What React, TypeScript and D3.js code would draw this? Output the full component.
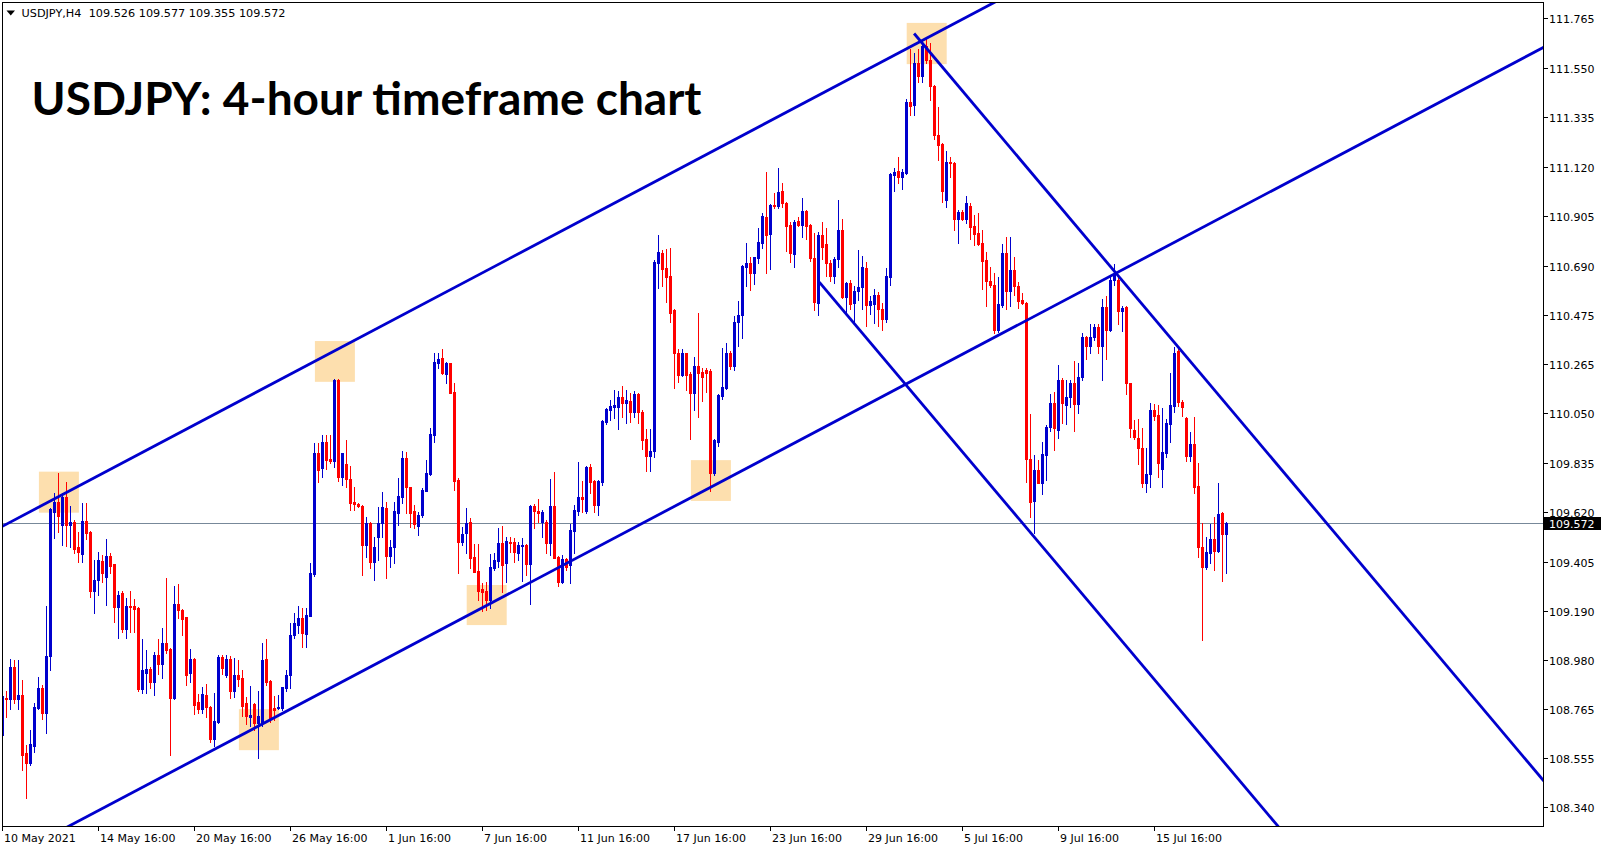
import React from "react";
import * as d3 from "d3";

// ---- OHLC data, USDJPY H4, bar 0 = 10 May 2021 16:00 ----
const openPrices = [
  108.654, 108.815, 108.811, 108.948, 108.811, 108.827, 108.575, 108.531, 108.607, 108.773,
  108.860, 108.751, 108.995, 109.624, 109.667, 109.566, 109.689, 109.566, 109.580, 109.468,
  109.439, 109.583, 109.533, 109.277, 109.327, 109.410, 109.340, 109.431, 109.394, 109.209,
  109.269, 109.115, 109.214, 109.212, 109.204, 108.853, 108.925, 108.942, 108.886, 109.002,
  108.963, 109.055, 109.026, 108.814, 109.223, 109.197, 109.164, 108.922, 108.983, 108.795,
  108.766, 108.827, 108.777, 108.636, 108.712, 108.992, 108.915, 108.984, 108.843, 108.915,
  108.900, 108.792, 108.734, 108.789, 108.708, 108.708, 108.983, 108.890, 108.769, 108.770,
  108.770, 108.857, 108.915, 109.088, 109.132, 109.161, 109.093, 109.172, 109.353, 109.877,
  109.814, 109.924, 109.852, 109.845, 110.195, 109.772, 109.830, 109.764, 109.664, 109.657,
  109.649, 109.479, 109.576, 109.406, 109.512, 109.573, 109.638, 109.432, 109.471, 109.619,
  109.689, 109.855, 109.729, 109.626, 109.561, 109.609, 109.715, 109.787, 109.956, 110.270,
  110.289, 110.221, 110.267, 110.144, 109.761, 109.493, 109.530, 109.580, 109.428, 109.366,
  109.288, 109.279, 109.240, 109.380, 109.409, 109.486, 109.399, 109.493, 109.490, 109.443,
  109.476, 109.479, 109.395, 109.648, 109.627, 109.580, 109.580, 109.486, 109.648, 109.428,
  109.320, 109.418, 109.392, 109.540, 109.627, 109.689, 109.627, 109.819, 109.757, 109.653,
  109.754, 110.014, 110.065, 110.079, 110.079, 110.121, 110.097, 110.104, 110.055, 110.134,
  110.058, 109.937, 109.865, 109.887, 110.704, 110.748, 110.680, 110.646, 110.499, 110.311,
  110.217, 110.311, 110.221, 110.137, 110.256, 110.230, 110.238, 110.234, 109.790, 109.927,
  110.126, 110.159, 110.314, 110.256, 110.448, 110.477, 110.687, 110.701, 110.658, 110.723,
  110.791, 110.904, 110.829, 110.955, 110.950, 111.017, 110.965, 110.868, 110.742, 110.887,
  110.868, 110.930, 110.868, 110.723, 110.530, 110.824, 110.785, 110.701, 110.646, 110.718,
  110.848, 110.556, 110.614, 110.527, 110.582, 110.599, 110.679, 110.520, 110.524, 110.563,
  110.501, 110.460, 110.643, 111.084, 111.103, 111.074, 111.094, 111.403, 111.388, 111.572,
  111.514, 111.644, 111.586, 111.470, 111.258, 111.219, 110.976, 111.142, 111.138, 110.892,
  110.925, 110.892, 110.950, 110.863, 110.831, 110.790, 110.715, 110.625, 110.607, 110.411,
  110.520, 110.747, 110.582, 110.672, 110.602, 110.542, 110.527, 109.850, 109.671, 109.804,
  109.749, 109.869, 109.989, 110.096, 109.977, 110.197, 110.086, 110.122, 110.180, 110.090,
  110.206, 110.380, 110.342, 110.380, 110.423, 110.342, 110.510, 110.414, 110.631, 110.629,
  110.495, 110.510, 110.180, 109.980, 109.941, 109.898, 109.746, 109.789, 110.064, 110.042,
  109.810, 109.877, 110.004, 110.082, 110.322, 110.101, 110.029, 109.865, 109.917, 109.735,
  109.471, 109.382, 109.443, 109.503, 109.454, 109.616, 109.526,
];

const highPrices = [
  108.850, 108.843, 108.983, 108.980, 108.980, 108.893, 108.611, 108.676, 108.792, 108.905,
  108.871, 109.212, 109.640, 109.703, 109.790, 109.703, 109.754, 109.646, 109.585, 109.533,
  109.663, 109.660, 109.540, 109.414, 109.450, 109.436, 109.504, 109.443, 109.397, 109.277,
  109.281, 109.248, 109.281, 109.243, 109.210, 109.070, 109.023, 108.951, 109.016, 109.070,
  109.117, 109.335, 109.030, 109.301, 109.310, 109.200, 109.168, 109.026, 108.988, 108.832,
  108.861, 108.876, 108.780, 108.838, 109.002, 109.002, 109.002, 108.997, 108.987, 108.980,
  108.937, 108.818, 108.867, 108.792, 108.843, 109.052, 109.070, 108.893, 108.821, 108.828,
  108.864, 108.937, 109.142, 109.183, 109.212, 109.204, 109.204, 109.400, 109.923, 109.920,
  109.956, 109.956, 109.956, 110.198, 110.200, 109.880, 109.935, 109.822, 109.729, 109.662,
  109.652, 109.602, 109.580, 109.515, 109.645, 109.707, 109.667, 109.500, 109.667, 109.768,
  109.888, 109.884, 109.732, 109.652, 109.623, 109.725, 109.848, 109.985, 110.314, 110.314,
  110.328, 110.275, 110.270, 110.180, 109.768, 109.558, 109.638, 109.595, 109.482, 109.482,
  109.312, 109.320, 109.438, 109.443, 109.551, 109.559, 109.515, 109.515, 109.508, 109.493,
  109.508, 109.482, 109.653, 109.655, 109.679, 109.631, 109.587, 109.765, 109.797, 109.432,
  109.436, 109.424, 109.569, 109.653, 109.838, 109.757, 109.823, 109.830, 109.760, 109.760,
  110.020, 110.072, 110.108, 110.152, 110.147, 110.169, 110.152, 110.137, 110.145, 110.137,
  110.065, 109.981, 109.981, 110.715, 110.824, 110.759, 110.762, 110.767, 110.502, 110.328,
  110.328, 110.314, 110.231, 110.296, 110.484, 110.246, 110.246, 110.241, 109.940, 110.135,
  110.332, 110.354, 110.320, 110.473, 110.539, 110.695, 110.791, 110.727, 110.730, 110.853,
  110.918, 111.099, 110.960, 111.008, 111.114, 111.052, 110.969, 110.882, 110.890, 110.904,
  110.984, 110.933, 110.872, 110.831, 110.838, 110.882, 110.853, 110.715, 110.730, 110.976,
  110.892, 110.621, 110.628, 110.602, 110.759, 110.733, 110.708, 110.559, 110.592, 110.578,
  110.530, 110.679, 111.094, 111.117, 111.164, 111.109, 111.413, 111.630, 111.615, 111.630,
  111.677, 111.677, 111.659, 111.475, 111.378, 111.222, 111.190, 111.161, 111.140, 110.935,
  110.935, 110.993, 110.964, 110.911, 110.918, 110.848, 110.751, 110.686, 110.660, 110.640,
  110.785, 110.817, 110.817, 110.727, 110.621, 110.574, 110.534, 110.047, 109.869, 109.847,
  109.927, 109.999, 110.134, 110.144, 110.260, 110.202, 110.197, 110.197, 110.278, 110.270,
  110.400, 110.385, 110.440, 110.440, 110.440, 110.545, 110.559, 110.650, 110.698, 110.646,
  110.516, 110.516, 110.183, 110.021, 110.024, 109.985, 109.898, 110.096, 110.090, 110.086,
  110.072, 110.024, 110.224, 110.337, 110.337, 110.108, 110.033, 109.971, 110.033, 109.833,
  109.576, 109.515, 109.570, 109.602, 109.749, 109.623, 109.577,
];

const lowPrices = [
  108.640, 108.734, 108.766, 108.792, 108.766, 108.500, 108.379, 108.524, 108.578, 108.766,
  108.722, 108.662, 108.937, 109.507, 109.537, 109.479, 109.475, 109.472, 109.446, 109.403,
  109.407, 109.504, 109.255, 109.185, 109.262, 109.320, 109.219, 109.356, 109.146, 109.074,
  109.103, 109.074, 109.103, 109.103, 108.843, 108.838, 108.838, 108.857, 108.828, 108.919,
  108.900, 109.009, 108.568, 108.810, 109.161, 109.088, 108.871, 108.886, 108.746, 108.748,
  108.751, 108.731, 108.625, 108.607, 108.705, 108.919, 108.905, 108.814, 108.818, 108.867,
  108.737, 108.702, 108.691, 108.676, 108.556, 108.691, 108.871, 108.712, 108.720, 108.766,
  108.763, 108.843, 108.857, 109.074, 109.096, 109.038, 109.035, 109.171, 109.342, 109.754,
  109.775, 109.807, 109.836, 109.816, 109.758, 109.739, 109.729, 109.631, 109.631, 109.645,
  109.348, 109.428, 109.377, 109.327, 109.414, 109.515, 109.337, 109.385, 109.399, 109.566,
  109.660, 109.619, 109.558, 109.551, 109.522, 109.602, 109.712, 109.783, 109.927, 110.246,
  110.220, 110.180, 110.137, 109.717, 109.359, 109.480, 109.443, 109.378, 109.360, 109.240,
  109.190, 109.197, 109.204, 109.370, 109.385, 109.276, 109.320, 109.447, 109.407, 109.414,
  109.323, 109.349, 109.221, 109.551, 109.580, 109.515, 109.443, 109.436, 109.421, 109.302,
  109.312, 109.370, 109.312, 109.443, 109.609, 109.624, 109.616, 109.703, 109.621, 109.609,
  109.739, 110.003, 110.022, 110.032, 109.982, 110.036, 110.007, 110.014, 110.036, 110.007,
  109.894, 109.801, 109.801, 109.862, 110.593, 110.603, 110.535, 110.448, 110.159, 110.188,
  110.212, 110.152, 109.937, 110.065, 110.036, 110.105, 110.144, 109.715, 109.783, 109.909,
  110.111, 110.154, 110.241, 110.238, 110.343, 110.376, 110.603, 110.586, 110.612, 110.704,
  110.767, 110.658, 110.675, 110.940, 110.940, 110.947, 110.756, 110.709, 110.687, 110.863,
  110.814, 110.806, 110.713, 110.498, 110.476, 110.722, 110.646, 110.625, 110.617, 110.686,
  110.549, 110.491, 110.501, 110.443, 110.542, 110.505, 110.429, 110.481, 110.443, 110.429,
  110.414, 110.447, 110.607, 111.016, 111.051, 111.026, 111.091, 111.345, 111.345, 111.489,
  111.489, 111.569, 111.410, 111.243, 111.149, 110.968, 110.947, 111.077, 110.845, 110.790,
  110.889, 110.877, 110.805, 110.780, 110.780, 110.592, 110.516, 110.600, 110.400, 110.404,
  110.510, 110.501, 110.516, 110.563, 110.506, 110.524, 109.753, 109.601, 109.529, 109.746,
  109.702, 109.760, 109.974, 109.893, 109.941, 110.009, 110.003, 110.079, 109.974, 110.053,
  110.197, 110.284, 110.310, 110.370, 110.313, 110.194, 110.284, 110.409, 110.607, 110.438,
  110.409, 110.134, 109.948, 109.937, 109.830, 109.731, 109.710, 109.731, 110.021, 109.775,
  109.732, 109.859, 109.927, 110.057, 110.082, 110.039, 109.845, 109.845, 109.703, 109.428,
  109.066, 109.375, 109.402, 109.370, 109.450, 109.324, 109.355,
];

const closePrices = [
  108.821, 108.810, 108.948, 108.811, 108.827, 108.568, 108.534, 108.615, 108.777, 108.860,
  108.751, 108.997, 109.634, 109.667, 109.605, 109.689, 109.566, 109.580, 109.460, 109.450,
  109.583, 109.530, 109.277, 109.327, 109.414, 109.359, 109.431, 109.388, 109.209, 109.262,
  109.115, 109.214, 109.209, 109.200, 108.853, 108.934, 108.939, 108.886, 109.002, 108.963,
  109.055, 109.023, 108.814, 109.223, 109.197, 109.157, 108.915, 108.983, 108.785, 108.766,
  108.832, 108.774, 108.636, 108.715, 108.992, 108.944, 108.984, 108.843, 108.915, 108.898,
  108.780, 108.737, 108.740, 108.708, 108.737, 108.980, 108.886, 108.722, 108.763, 108.777,
  108.861, 108.915, 109.088, 109.142, 109.161, 109.096, 109.175, 109.356, 109.880, 109.804,
  109.924, 109.848, 109.845, 110.195, 109.775, 109.877, 109.764, 109.662, 109.655, 109.649,
  109.479, 109.576, 109.406, 109.471, 109.576, 109.642, 109.432, 109.471, 109.626, 109.693,
  109.855, 109.729, 109.619, 109.568, 109.609, 109.717, 109.790, 109.961, 110.275, 110.285,
  110.227, 110.267, 110.140, 109.758, 109.493, 109.526, 109.573, 109.424, 109.363, 109.279,
  109.276, 109.240, 109.385, 109.414, 109.486, 109.392, 109.496, 109.486, 109.447, 109.479,
  109.480, 109.395, 109.648, 109.627, 109.619, 109.624, 109.486, 109.648, 109.424, 109.320,
  109.418, 109.385, 109.544, 109.631, 109.689, 109.679, 109.819, 109.754, 109.653, 109.757,
  110.017, 110.069, 110.084, 110.087, 110.121, 110.094, 110.108, 110.055, 110.134, 110.058,
  109.935, 109.865, 109.887, 110.709, 110.752, 110.675, 110.644, 110.487, 110.311, 110.217,
  110.314, 110.217, 110.137, 110.256, 110.227, 110.209, 110.227, 109.793, 109.935, 110.130,
  110.163, 110.314, 110.256, 110.448, 110.477, 110.690, 110.701, 110.658, 110.727, 110.795,
  110.907, 110.824, 110.955, 110.950, 111.013, 110.965, 110.863, 110.748, 110.882, 110.868,
  110.930, 110.863, 110.723, 110.534, 110.824, 110.773, 110.701, 110.646, 110.718, 110.848,
  110.556, 110.614, 110.524, 110.582, 110.599, 110.686, 110.520, 110.539, 110.563, 110.501,
  110.458, 110.646, 111.089, 111.099, 111.077, 111.099, 111.403, 111.384, 111.572, 111.514,
  111.644, 111.586, 111.470, 111.258, 111.214, 111.016, 111.142, 111.135, 110.892, 110.925,
  110.892, 110.964, 110.860, 110.828, 110.785, 110.712, 110.625, 110.607, 110.411, 110.524,
  110.747, 110.582, 110.672, 110.602, 110.539, 110.527, 109.850, 109.666, 109.804, 109.749,
  109.873, 109.989, 110.096, 109.985, 110.197, 110.096, 110.122, 110.180, 110.090, 110.209,
  110.380, 110.342, 110.380, 110.423, 110.342, 110.510, 110.414, 110.631, 110.657, 110.495,
  110.506, 110.180, 109.985, 109.948, 109.898, 109.746, 109.789, 110.064, 110.038, 109.836,
  109.884, 110.010, 110.086, 110.314, 110.101, 110.079, 109.865, 109.917, 109.732, 109.471,
  109.385, 109.450, 109.503, 109.454, 109.613, 109.526, 109.572,
];

// ---- axis labels ----
const timeTickBars = [0, 24, 48, 72, 96, 120, 144, 168, 192, 216, 240, 264, 288];
const timeTickLabels = [
  "10 May 2021", "14 May 16:00", "20 May 16:00", "26 May 16:00", "1 Jun 16:00",
  "7 Jun 16:00", "11 Jun 16:00", "17 Jun 16:00", "23 Jun 16:00", "29 Jun 16:00",
  "5 Jul 16:00", "9 Jul 16:00", "15 Jul 16:00",
];
const priceTickLabels = [
  "111.765", "111.550", "111.335", "111.120", "110.905", "110.690", "110.475", "110.265",
  "110.050", "109.835", "109.620", "109.405", "109.190", "108.980", "108.765", "108.555", "108.340",
];

// ---- drawings: trend lines [bar1, price1, bar2, price2, extendLeft] ----
const trendLines: [number, number, number, number, boolean][] = [
  [0, 109.56, 240, 111.761, true],
  [0, 108.106, 300, 110.857, true],
  [227.9, 111.699, 385.1, 108.459, false],
  [204.2, 110.62, 400, 106.587, false],
];
// highlight rectangles [barFrom, barTo, priceTop, priceBottom]
const highlightBoxes: [number, number, number, number][] = [
  [9.1, 19.1, 109.797, 109.619],
  [78.1, 88.1, 110.364, 110.187],
  [59.1, 69.1, 108.766, 108.588],
  [116.05, 126.05, 109.305, 109.131],
  [172.1, 182.1, 109.847, 109.670],
  [226.05, 236.05, 111.745, 111.566],
];

const symbolHeader = "USDJPY,H4  109.526 109.577 109.355 109.572";
const chartTitle = "USDJPY: 4-hour timeframe chart";
const lastPrice = 109.572;

const BLUE = "#0000CD";
const RED = "#FF0000";

export default function App() {
  const W = 1607;
  const H = 850;
  const left = 2, right = 1543, top = 2, bottom = 826;

  const x = d3.scaleLinear().domain([0, 1]).range([2.5, 6.5]);
  const y = d3.scaleLinear().domain([108.34, 111.765]).range([807.3, 18.3]);

  const candles = openPrices.map((o, i) => {
    const c = closePrices[i];
    const h = highPrices[i];
    const l = lowPrices[i];
    const cx = Math.floor(x(i));
    const bull = c >= o;
    const col = bull ? BLUE : RED;
    const yTop = Math.round(y(Math.max(o, c)));
    const yBot = Math.round(y(Math.min(o, c)));
    const yH = Math.round(y(h));
    const yL = Math.round(y(l));
    return (
      <g key={i} fill={col}>
        <rect x={cx} y={yH} width={1} height={Math.max(1, yL - yH + 1)} />
        <rect x={cx - 1} y={yTop} width={3} height={Math.max(1, yBot - yTop + 1)} />
      </g>
    );
  });

  const lineEls = trendLines.map(([b1, p1, b2, p2, extL], i) => {
    const slope = (p2 - p1) / (b2 - b1);
    const bs = extL ? -40 : b1;
    const be = 440;
    const pts: [number, number][] = [
      [x(bs), y(p1 + slope * (bs - b1))],
      [x(be), y(p1 + slope * (be - b1))],
    ];
    const path = d3.line()(pts) || "";
    return <path key={i} d={path} stroke={BLUE} strokeWidth={2.8} fill="none" />;
  });

  const boxEls = highlightBoxes.map(([b1, b2, pt, pb], i) => (
    <rect
      key={i}
      x={x(b1)}
      y={y(pt)}
      width={x(b2) - x(b1)}
      height={y(pb) - y(pt)}
      fill="#FDDFAE"
    />
  ));

  const lastY = Math.round(y(lastPrice)) + 0.5;

  const axisFont = "'DejaVu Sans', Verdana, sans-serif";

  return (
    <div style={{ position: "absolute", left: 0, top: 0, width: W, height: H, background: "#fff" }}>
      <style>{`body{margin:0;}`}</style>
      <svg width={W} height={H} style={{ display: "block" }}>
        <defs>
          <clipPath id="plotClip">
            <rect x={left + 1} y={top + 1} width={right - left - 1} height={bottom - top - 1} />
          </clipPath>
        </defs>
        <rect x={0} y={0} width={W} height={H} fill="#fff" />
        <g clipPath="url(#plotClip)">
          {boxEls}
          <line x1={left} x2={right} y1={lastY} y2={lastY} stroke="#778899" strokeWidth={1} shapeRendering="crispEdges" />
          <g shapeRendering="crispEdges">{candles}</g>
          {lineEls}
        </g>
        {/* frame */}
        <rect x={left + 0.5} y={top + 0.5} width={right - left} height={bottom - top} fill="none" stroke="#000" strokeWidth={1} shapeRendering="crispEdges" />

        {/* price axis */}
        <g fontFamily={axisFont} fontSize={11} fill="#000">
          {priceTickLabels.map((lbl, i) => {
            const ty = Math.round(y(parseFloat(lbl))) + 0.5;
            return (
              <g key={i}>
                <line x1={right + 1} x2={right + 5} y1={ty} y2={ty} stroke="#000" shapeRendering="crispEdges" />
                <text x={right + 6} y={ty + 4}>{lbl}</text>
              </g>
            );
          })}
          <rect x={right + 1} y={lastY - 6.5} width={57} height={13} fill="#000" />
          <text x={right + 6} y={lastY + 4} fill="#fff">{lastPrice.toFixed(3)}</text>
        </g>

        {/* time axis */}
        <g fontFamily={axisFont} fontSize={11} fill="#000">
          {timeTickBars.map((b, i) => {
            const tx = Math.floor(x(b)) + 0.5;
            return (
              <g key={i}>
                <line x1={tx} x2={tx} y1={bottom + 1} y2={bottom + 5} stroke="#000" shapeRendering="crispEdges" />
                <text x={tx + 1.5} y={842}>{timeTickLabels[i]}</text>
              </g>
            );
          })}
        </g>

        {/* header */}
        <path d="M6.5,10.5 L15,10.5 L10.75,15.5 Z" fill="#000" />
        <text x={21.5} y={17} fontFamily={axisFont} fontSize={11} fill="#000" style={{ whiteSpace: "pre" }} textLength={264} lengthAdjust="spacingAndGlyphs">
          {symbolHeader}
        </text>

        {/* title */}
        <text x={31.5} y={115} fontFamily="Lato, 'Open Sans', sans-serif" fontWeight={700} fontSize={45} fill="#000" textLength={670} lengthAdjust="spacingAndGlyphs">
          {chartTitle}
        </text>
      </svg>
    </div>
  );
}
